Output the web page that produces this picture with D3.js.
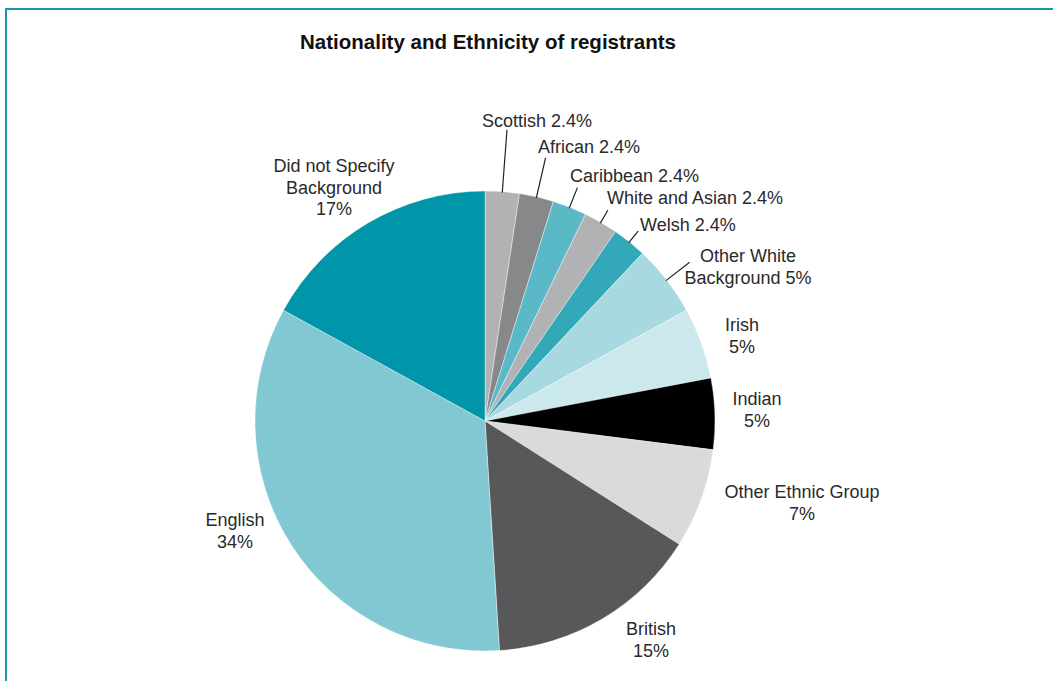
<!DOCTYPE html>
<html>
<head>
<meta charset="utf-8">
<script src="https://cdn.jsdelivr.net/npm/d3@7"></script>
<style>
  html, body { margin: 0; padding: 0; background: #fff; }
  svg { display: block; }
  text { font-family: "Liberation Sans", Arial, Helvetica, sans-serif; }
</style>
</head>
<body>
<svg id="chart" width="1053" height="681"></svg>
<script>
// Slices, clockwise from 12 o'clock
const categories = [
  "Scottish", "African", "Caribbean", "White and Asian", "Welsh",
  "Other White Background", "Irish", "Indian", "Other Ethnic Group",
  "British", "English", "Did not Specify Background"
];
const shares = [2.4, 2.4, 2.4, 2.4, 2.4, 5, 5, 5, 7, 15, 34, 17];
const labelLines = [
  ["Scottish 2.4%"],
  ["African 2.4%"],
  ["Caribbean 2.4%"],
  ["White and Asian 2.4%"],
  ["Welsh 2.4%"],
  ["Other White", "Background 5%"],
  ["Irish", "5%"],
  ["Indian", "5%"],
  ["Other Ethnic Group", "7%"],
  ["British", "15%"],
  ["English", "34%"],
  ["Did not Specify", "Background", "17%"]
];

const colors = [
  "#b1b2b4", "#87888a", "#5ab9c7", "#b1b2b4", "#33a8b9",
  "#a8d9e0", "#cbe8ec", "#000000", "#d9dadc",
  "#58585a", "#82c8d3", "#0095a8"
];

// Label placement: text anchor (relative to pie centre), alignment,
// and for the thin slices a leader line out to radius `lead`.
const labelLayout = [
  { x: -3,   y: -294, anchor: "start",  lead: 292 },
  { x: 53,   y: -268, anchor: "start",  lead: 270 },
  { x: 85,   y: -239, anchor: "start",  lead: 251 },
  { x: 122,  y: -217, anchor: "start",  lead: 244 },
  { x: 155,  y: -190, anchor: "start",  lead: 244 },
  { x: 263,  y: -159, anchor: "middle", lead: 259 },
  { x: 257,  y: -90,  anchor: "middle" },
  { x: 272,  y: -16,  anchor: "middle" },
  { x: 317,  y: 77,   anchor: "middle" },
  { x: 166,  y: 214,  anchor: "middle" },
  { x: -250, y: 105,  anchor: "middle" },
  { x: -151, y: -249, anchor: "middle" }
];

const svg = d3.select("#chart");
const W = 1053, H = 681;
const cx = 485, cy = 421, R = 230;

// Frame (left and top edges visible)
svg.append("rect")
  .attr("x", 6).attr("y", 9)
  .attr("width", W + 20).attr("height", H + 20)
  .attr("fill", "none")
  .attr("stroke", "#1a95aa")
  .attr("stroke-width", 2);

// Title
svg.append("text")
  .attr("x", 488).attr("y", 49)
  .attr("text-anchor", "middle")
  .attr("font-size", 20.5)
  .attr("font-weight", "bold")
  .attr("fill", "#111")
  .text("Nationality and Ethnicity of registrants");

const data = categories.map((c, i) => ({ name: c, value: shares[i], i }));

const pie = d3.pie().value(d => d.value).sort(null)
  .startAngle(0).endAngle(2 * Math.PI);
const arcs = pie(data);
const arc = d3.arc().innerRadius(0).outerRadius(R);

const g = svg.append("g").attr("transform", `translate(${cx},${cy})`);

g.selectAll("path.slice")
  .data(arcs)
  .join("path")
  .attr("class", "slice")
  .attr("d", arc)
  .attr("fill", d => colors[d.data.i])
  .attr("stroke", "#ffffff")
  .attr("stroke-width", 0.4);

// Leader lines for the slim slices
const polar = (a, r) => [r * Math.sin(a), -r * Math.cos(a)];
g.selectAll("line.leader")
  .data(arcs.filter(d => labelLayout[d.data.i].lead))
  .join("line")
  .attr("class", "leader")
  .each(function (d) {
    const mid = (d.startAngle + d.endAngle) / 2;
    const [x1, y1] = polar(mid, R - 1);
    const [x2, y2] = polar(mid, labelLayout[d.data.i].lead);
    d3.select(this)
      .attr("x1", x1).attr("y1", y1)
      .attr("x2", x2).attr("y2", y2);
  })
  .attr("stroke", "#222")
  .attr("stroke-width", 1.2);

// Labels
const labels = g.selectAll("text.label")
  .data(arcs)
  .join("text")
  .attr("class", "label")
  .attr("font-size", 18)
  .attr("fill", "#2a2a2a")
  .attr("text-anchor", d => labelLayout[d.data.i].anchor)
  .attr("transform", d => `translate(${labelLayout[d.data.i].x},${labelLayout[d.data.i].y})`);

labels.selectAll("tspan")
  .data(d => labelLines[d.data.i])
  .join("tspan")
  .attr("x", 0)
  .attr("dy", (t, k) => k === 0 ? 0 : 21.5)
  .text(t => t);
</script>
</body>
</html>
